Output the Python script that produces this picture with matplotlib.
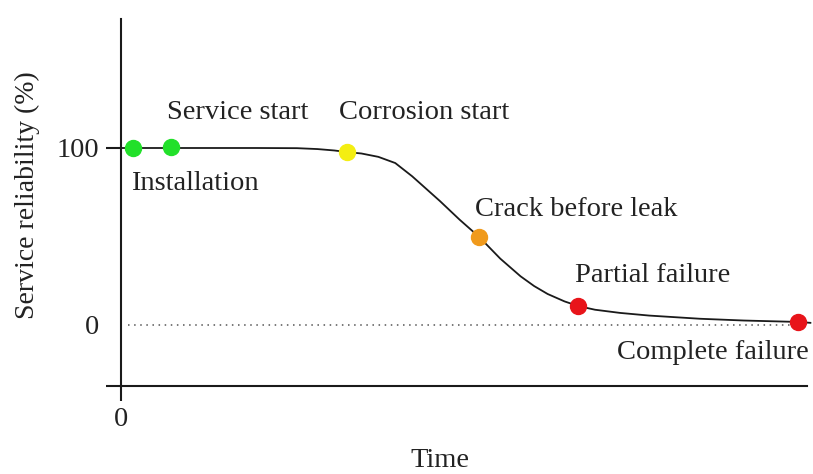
import matplotlib
matplotlib.use('Agg')
import matplotlib.pyplot as plt

# reliability curve (time in arbitrary units)
curve_t = [0, 10, 20, 26, 29, 31.5, 33.4, 35.5, 38, 40.5, 43, 47.1, 50, 52.9, 56, 59, 61, 63, 65.5, 67.5,
           70, 73.7, 78, 85.5, 92, 100, 101.8]
curve_r = [100, 100, 100, 99.9, 99.4, 98.6, 97.7, 96.9, 95, 91.5, 84, 70, 59.5, 49.7, 37.5, 27.5, 22, 17.5,
           13.3, 10.7, 8.6, 6.8, 5.3, 3.5, 2.5, 1.7, 1.2]

# events on the curve
event_names = ['Installation', 'Service start', 'Corrosion start', 'Crack before leak',
               'Partial failure', 'Complete failure']
event_t = [1.8, 7.4, 33.4, 52.9, 67.5, 100]
event_r = [100, 100.5, 97.7, 49.7, 10.7, 1.7]
event_colors = ['#22e02a', '#22e02a', '#f4ee12', '#f09a1c', '#e8141a', '#e8141a']
label_pos = [(1.5, 80), (6.8, 120), (32.2, 120), (52.3, 65.5), (67.1, 27.7), (101.5, -15.5)]
label_ha = ['left', 'left', 'left', 'left', 'left', 'right']

plt.rcParams['font.family'] = ['Liberation Serif', 'DejaVu Serif']
fs = 20.5

fig = plt.figure(figsize=(8.13, 4.74), dpi=100)
ax = fig.add_axes([121 / 813, 1 - 386 / 474, (807 - 121) / 813, (386 - 19) / 474])

ax.axhline(0, xmin=0.01, xmax=0.99, color='#555555', lw=1.1, ls=(0, (1, 3)))
ax.plot(curve_t, curve_r, color='#1a1a1a', lw=1.3, clip_on=False, zorder=2)
for t, r, c in zip(event_t, event_r, event_colors):
    ax.plot(t, r, 'o', ms=11.5, color=c, mec=c, clip_on=False, zorder=3)
for name, (x, y), ha in zip(event_names, label_pos, label_ha):
    ax.text(x, y, name, ha=ha, va='center', fontsize=fs, color='#222222')

ax.set_xlim(0, 101.3)
ax.set_ylim(-34.5, 172.9)
for s in ['top', 'right']:
    ax.spines[s].set_visible(False)
for s in ['left', 'bottom']:
    ax.spines[s].set_linewidth(1.5)
    ax.spines[s].set_color('#1a1a1a')

ax.set_yticks([0, 100])
ax.set_yticklabels(['0', '100'])
ax.set_yticks([-34.5], minor=True)
ax.tick_params(axis='y', which='both', length=11, width=1.5, color='#1a1a1a',
               labelsize=fs, pad=5, labelcolor='#222222')
ax.yaxis.get_major_ticks()[0].tick1line.set_visible(False)
ax.set_xticks([0])
ax.set_xticklabels(['0'])
ax.tick_params(axis='x', length=11, width=1.5, color='#1a1a1a', labelsize=fs,
               pad=4, labelcolor='#222222')

ax.set_ylabel('Service reliability (%)', fontsize=20, color='#222222')
ax.yaxis.set_label_coords(-0.118, 0.52)
ax.set_xlabel('Time', fontsize=fs, color='#222222')
ax.xaxis.set_label_coords(0.465, -0.17)

fig.savefig('out.png', dpi=100)
